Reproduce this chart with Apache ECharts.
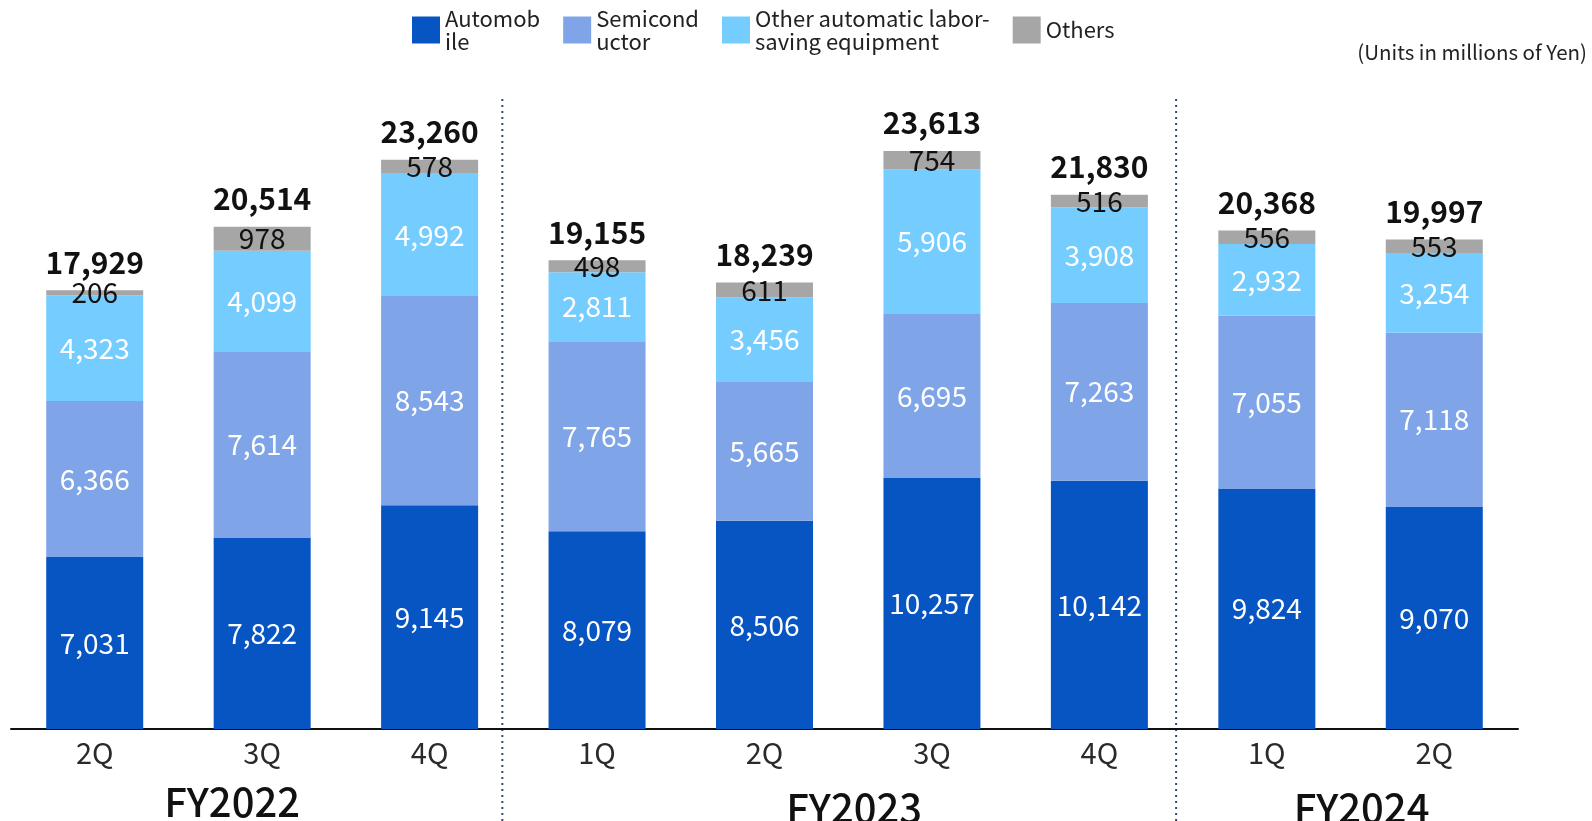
<!DOCTYPE html>
<html>
<head>
<meta charset="utf-8">
<script src="https://cdn.jsdelivr.net/npm/echarts@6/dist/echarts.min.js"></script>
<style>
html,body{margin:0;padding:0;background:#fff;}
#chart{width:1592px;height:821px;}
</style>
</head>
<body>
<div id="chart"></div>
<script>
const fiscalYears = ['FY2022','FY2022','FY2022','FY2023','FY2023','FY2023','FY2023','FY2024','FY2024'];
const quarters = ['2Q','3Q','4Q','1Q','2Q','3Q','4Q','1Q','2Q'];
const automobile = [7031, 7822, 9145, 8079, 8506, 10257, 10142, 9824, 9070];
const semiconductor = [6366, 7614, 8543, 7765, 5665, 6695, 7263, 7055, 7118];
const otherEquipment = [4323, 4099, 4992, 2811, 3456, 5906, 3908, 2932, 3254];
const others = [206, 978, 578, 498, 611, 754, 516, 556, 553];
const totals = [17929, 20514, 23260, 19155, 18239, 23613, 21830, 20368, 19997];
const seriesNames = ['Automobile', 'Semiconductor', 'Other automatic labor-saving equipment', 'Others'];
const legendLabels = {
  'Automobile': 'Automob\nile',
  'Semiconductor': 'Semicond\nuctor',
  'Other automatic labor-saving equipment': 'Other automatic labor-\nsaving equipment',
  'Others': 'Others'
};
const groups = [
  {name: 'FY2022', from: 0, to: 2, dx: -30, y: 802},
  {name: 'FY2023', from: 3, to: 6, dx: 6, y: 808},
  {name: 'FY2024', from: 7, to: 8, dx: 11, y: 808}
];
const dividerOffsets = [-11, -7];

const FONT = '"Noto Sans CJK JP", "Noto Sans", sans-serif';
const categories = fiscalYears.map((f, i) => f + ' ' + quarters[i]);
const fmt = v => v.toLocaleString('en-US');

const chart = echarts.init(document.getElementById('chart'));

function segLabel(color) {
  return {
    show: true, position: 'inside', color: color,
    fontFamily: FONT, fontSize: 28, fontWeight: 400,
    formatter: p => fmt(p.value)
  };
}

const option = {
  animation: false,
  backgroundColor: '#ffffff',
  textStyle: {fontFamily: FONT},
  legend: {
    data: seriesNames,
    top: 2, left: 407,
    itemWidth: 28, itemHeight: 27, itemGap: 23,
    icon: 'rect',
    selectedMode: false,
    formatter: n => legendLabels[n],
    textStyle: {fontFamily: FONT, fontSize: 22, lineHeight: 23, color: '#222'}
  },
  grid: {left: 11, right: 74, top: 117, bottom: 92, containLabel: false},
  xAxis: {
    type: 'category',
    data: categories,
    axisLine: {lineStyle: {color: '#111', width: 2}},
    axisTick: {show: false},
    axisLabel: {
      formatter: (v, i) => quarters[i],
      fontFamily: FONT, fontSize: 29, color: '#2a2a2a', margin: 9
    }
  },
  yAxis: {
    type: 'value', min: 0, max: 25000,
    show: false, splitLine: {show: false}
  },
  series: [
    {name: seriesNames[0], type: 'bar', stack: 'a', data: automobile, barWidth: 97,
      itemStyle: {color: '#0655C2'}, label: segLabel('#ffffff')},
    {name: seriesNames[1], type: 'bar', stack: 'a', data: semiconductor,
      itemStyle: {color: '#7FA5E8'}, label: segLabel('#ffffff')},
    {name: seriesNames[2], type: 'bar', stack: 'a', data: otherEquipment,
      itemStyle: {color: '#75CCFF'}, label: segLabel('#ffffff')},
    {name: seriesNames[3], type: 'bar', stack: 'a', data: others,
      itemStyle: {color: '#A6A6A6'}, label: segLabel('#111111')},
    {name: 'Total', type: 'bar', stack: 'a', data: totals.map(() => 0),
      itemStyle: {color: 'transparent'},
      label: {
        show: true, position: 'top', distance: 13,
        fontFamily: FONT, fontSize: 30, fontWeight: 700, color: '#111',
        formatter: p => fmt(totals[p.dataIndex])
      }}
  ]
};
chart.setOption(option);

function buildGraphics() {
  const px = i => chart.convertToPixel({xAxisIndex: 0}, categories[i]);
  const step = px(1) - px(0);
  const elems = [];
  elems.push({
    type: 'text', right: 5, top: 42,
    style: {text: '(Units in millions of Yen)', font: '400 20.5px ' + FONT, fill: '#222'}
  });
  groups.forEach((g, k) => {
    const cx = (px(g.from) + px(g.to)) / 2 + g.dx;
    elems.push({
      type: 'text', x: cx, y: g.y,
      style: {text: g.name, font: '500 40px ' + FONT, fill: '#111', align: 'center', verticalAlign: 'middle'}
    });
    if (k < groups.length - 1) {
      const bx = px(g.to) + step / 2 + dividerOffsets[k];
      elems.push({
        type: 'line',
        shape: {x1: bx, y1: 99, x2: bx, y2: 821},
        style: {stroke: '#2E4B73', lineWidth: 2, lineDash: [2, 4]}
      });
    }
  });
  chart.setOption({graphic: elems});
}
buildGraphics();
</script>
</body>
</html>
